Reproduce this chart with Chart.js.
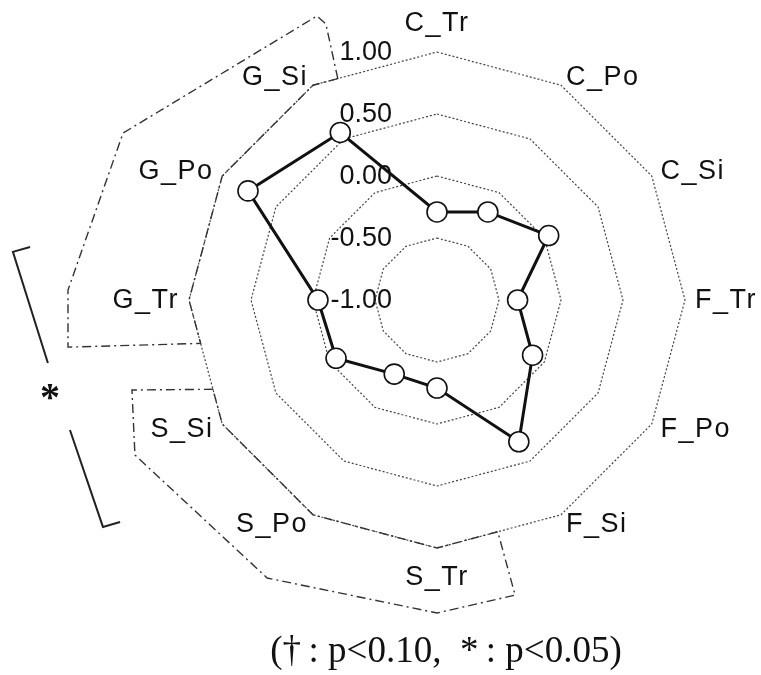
<!DOCTYPE html>
<html>
<head>
<meta charset="utf-8">
<script src="https://cdn.jsdelivr.net/npm/chart.js@4/dist/chart.umd.min.js"></script>
<style>
  html, body { margin: 0; padding: 0; background: #fff; }
  #wrap { width: 761px; height: 675px; position: relative; }
</style>
</head>
<body>
<div id="wrap"><canvas id="radar"></canvas></div>
<script>
// Axis categories, clockwise from the top
const categories = ['C_Tr', 'C_Po', 'C_Si', 'F_Tr', 'F_Po', 'F_Si',
                    'S_Tr', 'S_Po', 'S_Si', 'G_Tr', 'G_Po', 'G_Si'];
// Mean score on each axis
const scores = [-0.29, -0.18, 0.04, -0.35, -0.11, 0.32,
                -0.29, -0.31, -0.06, -0.04, 0.76, 0.56];
// Radial tick values shown as labels
const tickValues = [-1.0, -0.5, 0.0, 0.5, 1.0];
// Significance note and group marker
const footnote = '(\u2020\u2009: p<0.10,  *\u2009: p<0.05)';
const groupMark = '*';

const SANS = '"Liberation Sans", Arial, sans-serif';
const SERIF = '"Liberation Serif", "Times New Roman", serif';

// Draws tick labels, axis labels, the group outlines and the significance bracket
const annotations = {
  id: 'annotations',
  beforeDatasetsDraw(chart) {
    const scale = chart.scales.r;
    const ctx = chart.ctx;
    const cx = scale.xCenter, cy = scale.yCenter, R = scale.drawingArea;
    const P = (u, v) => [cx + u * R, cy + v * R];
    const ring = (i) => { const p = scale.getPointPosition(i % categories.length, R); return [p.x, p.y]; };
    const onRing = (i, j, t) => { const a = ring(i), b = ring(j); return [a[0] + (b[0] - a[0]) * t, a[1] + (b[1] - a[1]) * t]; };

    // group outlines (dash-dot)
    ctx.save();
    ctx.strokeStyle = '#333';
    ctx.lineWidth = 1.4;
    ctx.setLineDash([9, 4, 2, 4]);
    const outlines = [
      [onRing(11, 0, 0.2), P(-0.448, -1.113), P(-0.484, -1.145), P(-1.266, -0.673),
       P(-1.488, -0.040), P(-1.488, 0.190), onRing(9, 8, 0.35), ring(9), ring(10), ring(11)],
      [onRing(9, 8, 0.72), P(-1.230, 0.363), P(-1.218, 0.625), P(-0.685, 1.121),
       P(0, 1.262), P(0.315, 1.190), onRing(6, 5, 0.49), ring(6), ring(7), ring(8)]
    ];
    outlines.forEach(pts => {
      ctx.beginPath();
      pts.forEach((p, k) => k ? ctx.lineTo(p[0], p[1]) : ctx.moveTo(p[0], p[1]));
      ctx.closePath();
      ctx.stroke();
    });
    ctx.restore();

    // significance bracket
    ctx.save();
    ctx.strokeStyle = '#222';
    ctx.lineWidth = 2;
    ctx.lineJoin = 'miter';
    [[P(-1.641, -0.214), P(-1.710, -0.194), P(-1.569, 0.254)],
     [P(-1.480, 0.524), P(-1.347, 0.915), P(-1.278, 0.895)]].forEach(pts => {
      ctx.beginPath();
      pts.forEach((p, k) => k ? ctx.lineTo(p[0], p[1]) : ctx.moveTo(p[0], p[1]));
      ctx.stroke();
    });
    ctx.fillStyle = '#111';
    ctx.font = 'bold 40px ' + SERIF;
    ctx.textAlign = 'center';
    ctx.textBaseline = 'middle';
    const m = P(-1.560, 0.400);
    ctx.fillText(groupMark, m[0], m[1]);
    ctx.restore();

    // radial tick labels
    ctx.save();
    ctx.fillStyle = '#111';
    ctx.font = '27px ' + SANS;
    ctx.textAlign = 'right';
    ctx.textBaseline = 'middle';
    tickValues.forEach(v => {
      const d = scale.getDistanceFromCenterForValue(v);
      ctx.fillText(v.toFixed(2), cx - 45, cy - d + 1);
    });
    ctx.restore();

    // axis labels
    ctx.save();
    ctx.fillStyle = '#111';
    ctx.font = '27px ' + SANS;
    ctx.letterSpacing = '1.5px';
    ctx.textBaseline = 'middle';
    const n = categories.length;
    categories.forEach((lab, i) => {
      let p;
      if (i === 0 || i === n / 2) {
        p = scale.getPointPosition(i, R + 29);
        ctx.textAlign = 'center';
      } else {
        p = scale.getPointPosition(i, R + 10);
        ctx.textAlign = i < n / 2 ? 'left' : 'right';
      }
      ctx.fillText(lab, p.x, p.y + 1);
    });
    ctx.restore();

    // footnote
    ctx.save();
    ctx.fillStyle = '#111';
    ctx.font = '37px ' + SERIF;
    ctx.textAlign = 'center';
    ctx.textBaseline = 'middle';
    ctx.fillText(footnote, cx + 9, 652);
    ctx.restore();
  }
};

new Chart(document.getElementById('radar'), {
  type: 'radar',
  data: {
    labels: categories,
    datasets: [{
      data: scores,
      borderColor: '#111',
      borderWidth: 3,
      fill: false,
      tension: 0,
      pointRadius: 10,
      pointHoverRadius: 10,
      pointBackgroundColor: '#fff',
      pointBorderColor: '#111',
      pointBorderWidth: 1.6
    }]
  },
  options: {
    responsive: true,
    maintainAspectRatio: false,
    animation: false,
    events: [],
    layout: { padding: { left: 189, right: 76, top: 52, bottom: 127 } },
    plugins: { legend: { display: false }, tooltip: { enabled: false } },
    scales: {
      r: {
        min: -1,
        max: 1,
        ticks: { display: false, stepSize: 0.5 },
        pointLabels: { display: false },
        angleLines: { display: false },
        grid: { color: '#444', lineWidth: 1.2 },
        border: { dash: [2, 2] }
      }
    }
  },
  plugins: [annotations]
});
</script>
</body>
</html>
